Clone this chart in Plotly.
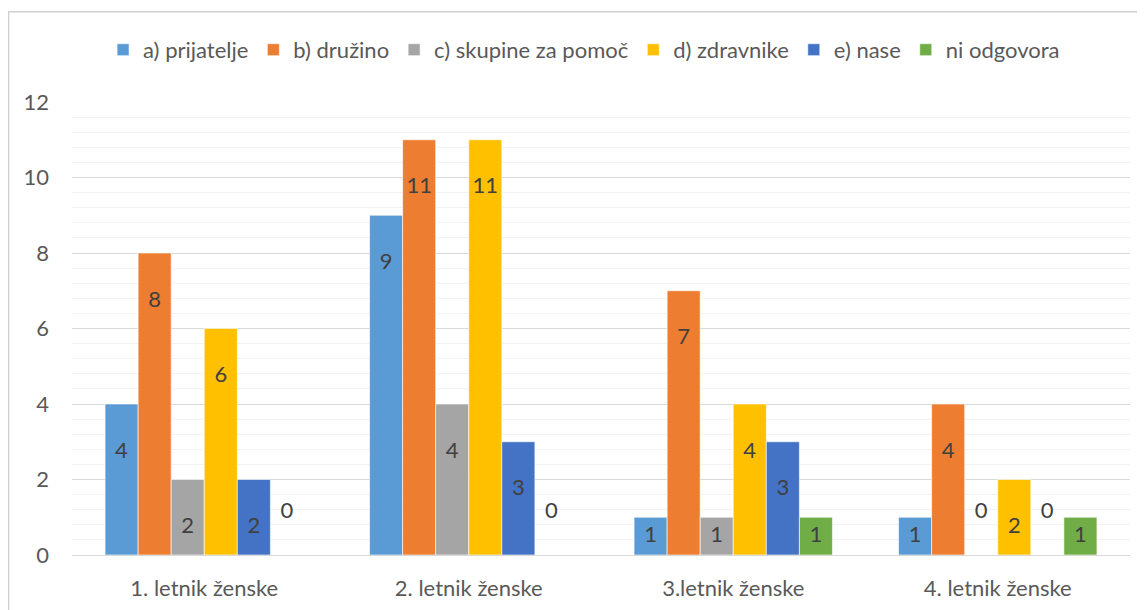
import plotly.graph_objects as go

# categories and answers
categories = ["1. letnik ženske", "2. letnik ženske", "3.letnik ženske", "4. letnik ženske"]
series_names = ["a) prijatelje", "b) družino", "c) skupine za pomoč", "d) zdravnike", "e) nase", "ni odgovora"]
prijatelje = [4, 9, 1, 1]
druzino = [8, 11, 7, 4]
skupine = [2, 4, 1, 0]
zdravnike = [6, 11, 4, 2]
nase = [2, 3, 3, 0]
ni_odgovora = [0, 0, 1, 1]
y_ticks = [0, 2, 4, 6, 8, 10, 12]

COLORS = ["#5B9BD5", "#ED7D31", "#A5A5A5", "#FFC000", "#4472C4", "#70AD47"]
FONT = "Lato, 'Open Sans', sans-serif"
FS = 22

fig = go.Figure()

for name, vals, color in zip(
    series_names,
    [prijatelje, druzino, skupine, zdravnike, nase, ni_odgovora],
    COLORS,
):
    # Excel-like "inside end" labels; zeros sit above the axis
    texts = []
    positions = []
    for v in vals:
        if v == 0:
            texts.append("0<br> ")
            positions.append("outside")
        elif v == 1:
            texts.append(str(v))
            positions.append("inside")
        else:
            texts.append(" <br>" + str(v))
            positions.append("inside")
    fig.add_trace(
        go.Bar(
            name=name,
            x=categories,
            y=vals,
            marker=dict(color=color, line=dict(color="white", width=0.6)),
            text=texts,
            textposition=positions,
            insidetextanchor="end",
            textfont=dict(family=FONT, size=FS, color="#404040"),
            cliponaxis=False,
        )
    )

# page body adds ~8px offset, margins compensate for it
fig.update_layout(
    width=1145,
    height=610,
    barmode="group",
    bargap=0.25,
    bargroupgap=0,
    plot_bgcolor="white",
    paper_bgcolor="white",
    margin=dict(l=64, r=23, t=94, b=63),
    font=dict(family=FONT, size=FS, color="#595959"),
    uniformtext=dict(minsize=FS, mode="show"),
    legend=dict(
        orientation="h",
        x=0.484,
        xanchor="center",
        y=1.115,
        yanchor="middle",
        font=dict(size=FS, color="#595959"),
        itemwidth=30,
        traceorder="normal",
    ),
    shapes=[
        dict(
            type="rect",
            xref="paper",
            yref="paper",
            x0=-0.06,
            x1=1.0095,
            y0=-0.2,
            y1=1.199,
            line=dict(color="#D0D0D0", width=1.5),
            fillcolor="rgba(0,0,0,0)",
            layer="below",
        )
    ],
)

fig.update_yaxes(
    range=[0, 12],
    tickvals=y_ticks,
    showgrid=True,
    gridcolor="#D9D9D9",
    gridwidth=1,
    zeroline=False,
    showline=False,
    ticklabelstandoff=22,
    tickfont=dict(size=FS, color="#595959"),
    minor=dict(dtick=0.4, showgrid=True, gridcolor="#F2F2F2", gridwidth=1),
)
fig.update_xaxes(
    showgrid=False,
    showline=True,
    linecolor="#D9D9D9",
    linewidth=1,
    ticks="",
    ticklabelstandoff=14,
    tickfont=dict(size=FS, color="#595959"),
)

fig.write_html("out.html")
